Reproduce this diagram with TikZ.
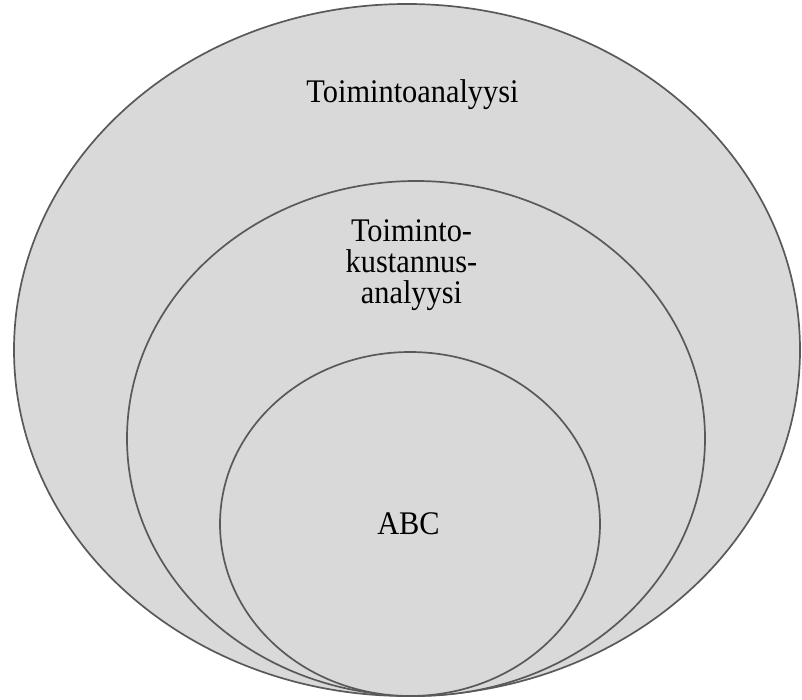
\documentclass[tikz,border=0pt]{standalone}
\usepackage{fontspec}
\setmainfont{Liberation Serif}
\newfontfamily\lblfont[FakeStretch=0.92]{Liberation Serif}
\definecolor{ringfill}{HTML}{D9D9D9}
\definecolor{ringline}{HTML}{595959}
\begin{document}
\begin{tikzpicture}[x=1pt,y=-1pt,
  ring/.style={fill=ringfill,draw=ringline,line width=1.7pt},
  lbl/.style={font=\lblfont\fontsize{33}{31}\selectfont,align=center,inner sep=0pt,anchor=base}]
\useasboundingbox (0,0) rectangle (802,700);
% nested sets, all touching at the bottom
\draw[ring] (407,350) ellipse [x radius=393,y radius=346];
\draw[ring] (416,438.5) ellipse [x radius=289,y radius=257.5];
\draw[ring] (410,524) ellipse [x radius=190,y radius=172];
% labels (base anchor sits on the last line)
\node[lbl] (outer) at (412.5,103) {Toimintoanalyysi};
\node[lbl] (middle) at (411.5,303) {Toiminto-\\kustannus-\\analyysi};
\node[lbl] (inner) at (408.5,534) {ABC};
\end{tikzpicture}
\end{document}
